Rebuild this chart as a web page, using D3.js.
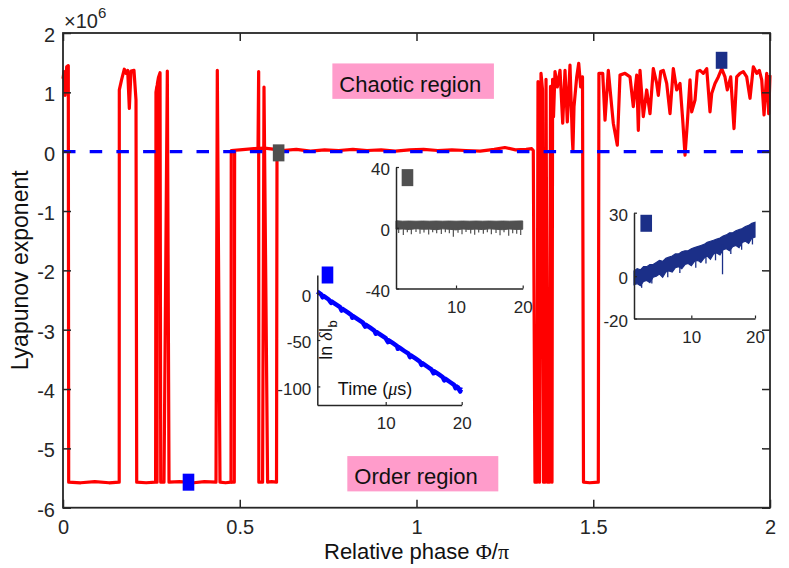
<!DOCTYPE html>
<html>
<head>
<meta charset="utf-8">
<script src="https://cdn.jsdelivr.net/npm/d3@7"></script>
<style>
  body { margin: 0; background: #fff; }
  svg text { font-family: "Liberation Sans", Arial, Helvetica, sans-serif; fill: #262626; }
</style>
</head>
<body>
<svg id="chart" width="789" height="568"></svg>
<script>
// ---------------- data ----------------
var xTicks = [0, 0.5, 1, 1.5, 2];
var yTicks = [-6, -5, -4, -3, -2, -1, 0, 1, 2];

// Lyapunov exponent (x1e6) against relative phase
var redMain = [
  [0, 1.23], [0.0028, 1.35], [0.0057, 0.95], [0.0104, 1.43], [0.015, 1.45], [0.0161, -5.57],
  [0.05, -5.58], [0.09, -5.56], [0.13, -5.58], [0.159, -5.57],
  [0.1593, 1.04], [0.166, 1.22], [0.1734, 1.39], [0.1782, 1.32], [0.183, 1.37], [0.1876, 0.73],
  [0.1924, 1.36], [0.2008, 1.37], [0.2065, 0.87], [0.2085, -5.57],
  [0.235, -5.58], [0.262, -5.57], [0.263, 1.0], [0.2655, 1.1], [0.266, -5.57], [0.267, 1.15],
  [0.27, 1.25], [0.2745, 1.33], [0.2765, -5.57], [0.2857, -5.57], [0.2951, 1.36], [0.2999, -5.57],
  [0.33, -5.56], [0.37, -5.58], [0.40, -5.56], [0.4328, -5.57], [0.4365, 1.37], [0.4441, -5.57],
  [0.46, -5.58], [0.4753, -5.57], [0.476, 0.02],
  [0.50, 0.03], [0.54, 0.05], [0.57, 0.06], [0.60, 0.04], [0.62, 0.02], [0.66, 0.04], [0.70, 0.01],
  [0.74, 0.03], [0.78, 0.02], [0.82, 0.04], [0.86, 0.02], [0.90, 0.03], [0.94, 0.01], [0.98, 0.03],
  [1.02, 0.04], [1.06, 0.02], [1.10, 0.03], [1.14, 0.02], [1.18, 0.01], [1.22, 0.04], [1.25, 0.07],
  [1.28, 0.03], [1.31, 0.04], [1.326, 0.05], [1.3304, 0.02],
  [1.3352, -5.57], [1.3409, -5.57], [1.3437, 1.18], [1.348, -5.57], [1.3522, 1.32], [1.3564, 1.05],
  [1.3593, -5.57], [1.3635, -5.57], [1.3664, 1.22], [1.3706, -5.57], [1.3763, -5.57], [1.3791, 1.1],
  [1.3833, -5.57], [1.385, 1.22], [1.3876, 0.59], [1.3918, 1.35], [1.3983, 1.09], [1.406, 1.37],
  [1.4136, 0.48], [1.4201, 1.37], [1.4266, 0.5], [1.4342, 1.46], [1.4408, 0.22], [1.4425, 0.03],
  [1.4456, 0.76], [1.4532, 1.26], [1.4589, 1.49], [1.4645, 1.09], [1.4696, 1.26], [1.4724, -5.57],
  [1.49, -5.58], [1.5143, -5.57], [1.516, 1.32], [1.5268, 1.32], [1.5333, 0.53], [1.5426, 1.37],
  [1.5522, 0.76], [1.5567, 0.48], [1.5681, 0.11], [1.5757, 1.29], [1.5898, 1.32], [1.604, 1.26],
  [1.6133, 0.76], [1.6229, 1.29], [1.6275, 0.36], [1.6323, 1.37], [1.6416, 0.59], [1.6512, 1.04],
  [1.6606, 0.64], [1.6699, 1.4], [1.6795, 1.15], [1.6841, 0.95], [1.6908, 1.35], [1.6982, 1.37],
  [1.7078, 1.15], [1.7172, 0.64], [1.7265, 1.4], [1.7361, 1.04], [1.7454, 1.15], [1.7531, 0.53],
  [1.7596, -0.06], [1.7661, 0.48], [1.7737, 1.21], [1.7785, 0.67], [1.7879, 0.87], [1.7943, 1.35],
  [1.802, 1.37], [1.8113, 1.32], [1.821, 1.4], [1.8303, 0.67], [1.8351, 0.98], [1.8444, 1.15],
  [1.8538, 1.26], [1.8634, 1.4], [1.8727, 1.26], [1.8792, 1.04], [1.8888, 1.26], [1.8982, 0.39],
  [1.9058, 1.26], [1.9152, 1.32], [1.9245, 1.35], [1.9341, 1.26], [1.9435, 0.9], [1.9528, 1.43],
  [1.9624, 1.32], [1.9698, 1.37], [1.9766, 1.21], [1.9831, 0.62], [1.9907, 1.32], [1.9964, 0.64],
  [2.0, 1.29]
];
// second branch near phase 0.48 and 0.55-0.61
var redBranchA = [[0.4753, -5.57], [0.4845, -5.57], [0.4855, 0.02]];
var redBranchB = [
  [0.5516, 0.03], [0.5535, 1.35], [0.554, -5.57], [0.5646, -5.57], [0.5686, 1.09],
  [0.5788, -5.57], [0.59, -5.56], [0.604, -5.57], [0.6054, 0.02]
];

var markerPhase = [0.355, 0.61, 1.863];
var markerValue = [-5.57, -0.02, 1.54];

// inset A: ln(dI_b) against time (us), ordered case
var insetATrace = [
  [1, 2.0], [1.5, -0.8], [1.7, -4.0], [1.8, -2.5], [2, -3.6], [2.5, -6.4], [2.8, -10.0], [2.9, -8.6],
  [3, -9.1], [3.5, -11.9], [4, -14.7], [4.2, -18.3], [4.3, -16.4], [4.5, -17.5], [5, -20.3],
  [5.5, -23.1], [5.6, -26.0], [5.7, -24.2], [6, -25.9], [6.5, -28.6], [7, -31.4], [7.3, -35.5],
  [7.4, -33.6], [7.5, -34.2], [8, -37], [8.5, -39.8], [8.7, -43.3], [8.8, -41.4], [9, -42.6],
  [9.5, -45.4], [10, -48.1], [10.3, -52.2], [10.4, -50.4], [10.5, -50.9], [11, -53.7], [11.5, -56.5],
  [11.6, -59.5], [11.7, -57.6], [12, -59.3], [12.5, -62.1], [13, -64.8], [13.2, -68.5], [13.3, -66.5],
  [13.5, -67.6], [14, -70.4], [14.5, -73.2], [14.7, -76.8], [14.8, -74.9], [15, -76], [15.5, -78.8],
  [16, -81.6], [16.3, -85.8], [16.4, -83.8], [16.5, -84.3], [17, -87.1], [17.5, -89.9], [17.7, -93.5],
  [17.8, -91.6], [18, -92.7], [18.5, -95.5], [19, -98.3], [19.2, -102], [19.3, -100], [19.5, -101],
  [19.8, -105.5], [19.9, -103.3], [20, -103.8]
];
var insetAXTicks = [10, 20];
var insetAYTicks = [-100, -50, 0];

// inset B: marginal case, noisy band around zero
var insetBTime = [1, 2, 3, 4, 5, 6, 7, 8, 9, 10, 11, 12, 13, 14, 15, 16, 17, 18, 19, 20];
var insetBHigh = [4.6, 4.3, 4.4, 4.3, 4.4, 4.3, 4.4, 4.3, 4.4, 4.3, 4.4, 4.3, 4.4, 4.3, 4.4, 4.3, 4.4, 4.3, 4.4, 4.5];
var insetBLow = [-1.0, -0.8, -1.2, -0.6, -1.0, -0.9, -1.3, -0.7, -1.0, -1.4, -0.8, -1.1, -0.9, -1.2, -0.7, -1.0, -1.3, -0.8, -1.1, -1.0];
var insetBSpikes = [
  [1.4, -3.5], [2.1, -4.8], [2.7, -3.0], [3.3, -4.2], [4.0, -2.8], [4.6, -3.9], [5.2, -3.2], [5.9, -4.5],
  [6.5, -2.9], [7.1, -3.6], [7.8, -4.1], [8.4, -3.0], [9.0, -3.7], [9.6, -6.0], [10.3, -3.3], [10.9, -4.2],
  [11.5, -2.8], [12.2, -3.8], [12.8, -4.6], [13.4, -3.1], [14.1, -3.9], [14.7, -2.9], [15.3, -4.3],
  [16.0, -3.4], [16.6, -4.9], [17.2, -3.0], [17.9, -5.2], [18.5, -3.6], [19.1, -4.0], [19.7, -4.7]
];
var insetBXTicks = [10, 20];
var insetBYTicks = [-40, 0, 40];

// inset C: chaotic case, growing band
var insetCTime = [1, 1.5, 2, 2.5, 3, 3.5, 4, 4.5, 5, 5.5, 6, 6.5, 7, 7.5, 8, 8.5, 9, 9.5, 10, 10.5,
  11, 11.5, 12, 12.5, 13, 13.5, 14, 14.5, 15, 15.5, 16, 16.5, 17, 17.5, 18, 18.5, 19, 19.5, 20];
var insetCHigh = [2.5, 3.5, 3.0, 4.5, 4.5, 5.5, 5.5, 6.5, 7.5, 7.0, 8.5, 9.0, 9.5, 10.5, 10.5, 11.5, 12.0, 12.0, 13.0, 13.5,
  14.0, 14.5, 15.0, 16.0, 16.5, 17.0, 17.5, 18.0, 19.0, 19.5, 20.5, 20.5, 21.5, 22.0, 22.5, 23.5, 24.0, 25.0, 25.5];
var insetCLow = [-4.0, -3.5, -4.5, -2.5, -2.0, -3.0, -0.5, 0.0, 1.0, -0.5, 2.0, 2.5, 2.0, 4.0, 4.5, 3.5, 5.5, 6.0, 5.0, 7.0,
  7.5, 6.5, 8.5, 9.5, 8.0, 10.5, 11.0, 10.0, 12.5, 13.0, 12.0, 14.0, 14.5, 13.5, 16.0, 16.5, 15.5, 18.0, 18.5];
var insetCSpikes = [
  [2.2, -3, -5.5], [3.8, -1, -3.5], [6.3, 2, -0.5], [8.2, 4, 1.5], [10.7, 7, 4.0], [12.3, 9, 6.0],
  [13.8, 11, 7.5], [14.9, 15, 0.9], [16.2, 14, 10.5], [17.9, 16, 12.5], [19.6, 18, 15.0]
];
var insetCXTicks = [10, 20];
var insetCYTicks = [-20, 0, 30];

// inset marker positions (time, value)
var insetAMarker = [2.34, 20];
var insetBMarker = [2.72, 33];
var insetCMarker = [2.92, 25];

// ---------------- drawing ----------------
var AX = "#262626";
var RED = "#ff0000", BLUE = "#0000ff", GREY = "#505050", NAVY = "#1b2f88", PINK = "#ff9ccb";

var svg = d3.select("#chart");
var x = d3.scaleLinear().domain([0, 2]).range([63, 770]);
var y = d3.scaleLinear().domain([-6, 2]).range([507.7, 33]);

var line = d3.line().x(function(d){ return x(d[0]); }).y(function(d){ return y(d[1]); });

// red traces
[redMain, redBranchA, redBranchB].forEach(function(tr){
  svg.append("path").attr("d", line(tr))
    .attr("fill", "none").attr("stroke", RED)
    .attr("stroke-width", 3.2).attr("stroke-linejoin", "round");
});

// zero reference
svg.append("line")
  .attr("x1", x(0)).attr("x2", x(2)).attr("y1", y(0)).attr("y2", y(0))
  .attr("stroke", BLUE).attr("stroke-width", 3.2).attr("stroke-dasharray", "12.5,14.2");

// main markers
var markerColor = [BLUE, GREY, NAVY];
markerPhase.forEach(function(p, i){
  svg.append("rect")
    .attr("x", x(p) - 5.8).attr("y", y(markerValue[i]) - 8.5)
    .attr("width", 11.6).attr("height", 17)
    .attr("fill", markerColor[i]);
});

// region labels
function regionLabel(txt, x0, x1, yTop, yBot, yBase){
  svg.append("rect")
    .attr("x", x(x0)).attr("y", y(yTop))
    .attr("width", x(x1) - x(x0)).attr("height", y(yBot) - y(yTop))
    .attr("fill", PINK);
  svg.append("text").attr("x", x(x0) + 7).attr("y", y(yBase))
    .style("font-size", "22px").style("fill", "#111").text(txt);
}
regionLabel("Chaotic region", 0.762, 1.219, 1.487, 0.89, 1.0);
regionLabel("Order region", 0.8043, 1.2314, -5.13, -5.725, -5.607);

// main axes
function styleTicks(g, size){
  g.select(".domain").remove();
  g.selectAll(".tick line").attr("stroke", AX).attr("stroke-width", 1.5);
  g.selectAll(".tick text").style("font-size", size + "px");
}
svg.append("g").attr("transform", "translate(0," + y(-6) + ")")
  .call(d3.axisBottom(x).tickValues(xTicks).tickSize(-8).tickPadding(12).tickFormat(String))
  .call(styleTicks, 20);
svg.append("g").attr("transform", "translate(0," + y(2) + ")")
  .call(d3.axisTop(x).tickValues(xTicks).tickSize(-8).tickFormat(""))
  .call(styleTicks, 20);
var yl = svg.append("g").attr("transform", "translate(" + x(0) + ",0)")
  .call(d3.axisLeft(y).tickValues(yTicks).tickSize(-8).tickPadding(8).tickFormat(String))
  .call(styleTicks, 20);
yl.selectAll(".tick text").attr("dy", "0.42em");
svg.append("g").attr("transform", "translate(" + x(2) + ",0)")
  .call(d3.axisRight(y).tickValues(yTicks).tickSize(-8).tickFormat(""))
  .call(styleTicks, 20);

svg.append("rect")
  .attr("x", x(0)).attr("y", y(2)).attr("width", x(2) - x(0)).attr("height", y(-6) - y(2))
  .attr("fill", "none").attr("stroke", AX).attr("stroke-width", 1.8);

// exponent label
var ex = svg.append("text").attr("x", x(0) + 1).attr("y", 28).style("font-size", "20px");
ex.append("tspan").text("\u00d710");
ex.append("tspan").attr("dy", -10).style("font-size", "15px").text("6");

// axis titles
var xt = svg.append("text").attr("x", (x(0) + x(2)) / 2).attr("y", 559)
  .attr("text-anchor", "middle").style("font-size", "22px").style("fill", "#111");
xt.append("tspan").text("Relative phase ");
xt.append("tspan").style("font-family", "Liberation Serif").text("\u03a6");
xt.append("tspan").text("/");
xt.append("tspan").style("font-family", "Liberation Serif").text("\u03c0");

svg.append("text").attr("transform", "translate(28," + (y(2) + y(-6)) / 2 + ") rotate(-90)")
  .attr("text-anchor", "middle").style("font-size", "23px").style("fill", "#111")
  .text("Lyapunov exponent");

// ---------------- insets ----------------
function insetAxes(ix, iy, xt, yt){
  var g = svg.append("g");
  var b = g.append("g").attr("transform", "translate(0," + iy.range()[0] + ")")
    .call(d3.axisBottom(ix).tickValues(xt).tickSize(-3).tickSizeOuter(0).tickPadding(12).tickFormat(String));
  var l = g.append("g").attr("transform", "translate(" + ix.range()[0] + ",0)")
    .call(d3.axisLeft(iy).tickValues(yt).tickSize(-3).tickSizeOuter(0).tickPadding(6).tickFormat(String));
  [b, l].forEach(function(a){
    a.select(".domain").attr("stroke", AX).attr("stroke-width", 1.5);
    a.selectAll(".tick line").attr("stroke", AX).attr("stroke-width", 1.2);
    a.selectAll(".tick text").style("font-size", "17px");
  });
  l.selectAll(".tick text").attr("dy", "0.45em");
}
function insetMarker(ix, iy, m, col){
  svg.append("rect").attr("x", ix(m[0]) - 5.8).attr("y", iy(m[1]) - 8.5)
    .attr("width", 11.6).attr("height", 17).attr("fill", col);
}

// inset A
var ax = d3.scaleLinear().domain([1, 20]).range([317.3, 461.7]);
var ay = d3.scaleLinear().domain([-120, 20]).range([405, 275]);
svg.append("path")
  .attr("d", d3.line().x(function(d){ return ax(d[0]); }).y(function(d){ return ay(d[1]); })(insetATrace))
  .attr("fill", "none").attr("stroke", BLUE).attr("stroke-width", 4.5).attr("stroke-linejoin", "round");
insetAxes(ax, ay, insetAXTicks, insetAYTicks);
insetMarker(ax, ay, insetAMarker, BLUE);
var tl = svg.append("text").attr("x", ax(8.6)).attr("y", ay(-109.5))
  .attr("text-anchor", "middle").style("font-size", "18px").style("fill", "#111");
tl.append("tspan").text("Time (");
tl.append("tspan").style("font-family", "Liberation Serif").style("font-style", "italic").text("\u03bc");
tl.append("tspan").text("s)");
var ll = svg.append("text").attr("transform", "translate(" + ax(2.9) + "," + ay(-50) + ") rotate(-90)")
  .attr("text-anchor", "middle").style("font-size", "18px").style("fill", "#111");
ll.append("tspan").text("ln ");
ll.append("tspan").style("font-family", "Liberation Serif").style("font-style", "italic").text("\u03b4");
ll.append("tspan").text("I");
ll.append("tspan").attr("dy", 5).style("font-size", "13px").text("b");

// inset B
var bx = d3.scaleLinear().domain([1, 20]).range([396, 522.7]);
var by = d3.scaleLinear().domain([-40, 40]).range([288.5, 167]);
var bBand = insetBTime.map(function(t, i){ return [t, insetBLow[i], insetBHigh[i]]; });
svg.append("path")
  .attr("d", d3.area().x(function(d){ return bx(d[0]); }).y0(function(d){ return by(d[1]); }).y1(function(d){ return by(d[2]); })(bBand))
  .attr("fill", GREY).attr("stroke", GREY).attr("stroke-width", 1);
svg.append("g").selectAll("line").data(insetBSpikes).enter().append("line")
  .attr("x1", function(d){ return bx(d[0]); }).attr("x2", function(d){ return bx(d[0]); })
  .attr("y1", by(0)).attr("y2", function(d){ return by(d[1]); })
  .attr("stroke", GREY).attr("stroke-width", 1.2);
insetAxes(bx, by, insetBXTicks, insetBYTicks);
insetMarker(bx, by, insetBMarker, GREY);

// inset C
var cx = d3.scaleLinear().domain([1, 20]).range([634, 755]);
var cy = d3.scaleLinear().domain([-20, 30]).range([318.5, 212.7]);
var cBand = insetCTime.map(function(t, i){ return [t, insetCLow[i], insetCHigh[i]]; });
svg.append("path")
  .attr("d", d3.area().x(function(d){ return cx(d[0]); }).y0(function(d){ return cy(d[1]); }).y1(function(d){ return cy(d[2]); })(cBand))
  .attr("fill", NAVY).attr("stroke", NAVY).attr("stroke-width", 1.2);
svg.append("g").selectAll("line").data(insetCSpikes).enter().append("line")
  .attr("x1", function(d){ return cx(d[0]); }).attr("x2", function(d){ return cx(d[0]); })
  .attr("y1", function(d){ return cy(d[1]); }).attr("y2", function(d){ return cy(d[2]); })
  .attr("stroke", NAVY).attr("stroke-width", 1.3);
insetAxes(cx, cy, insetCXTicks, insetCYTicks);
insetMarker(cx, cy, insetCMarker, NAVY);
</script>
</body>
</html>
